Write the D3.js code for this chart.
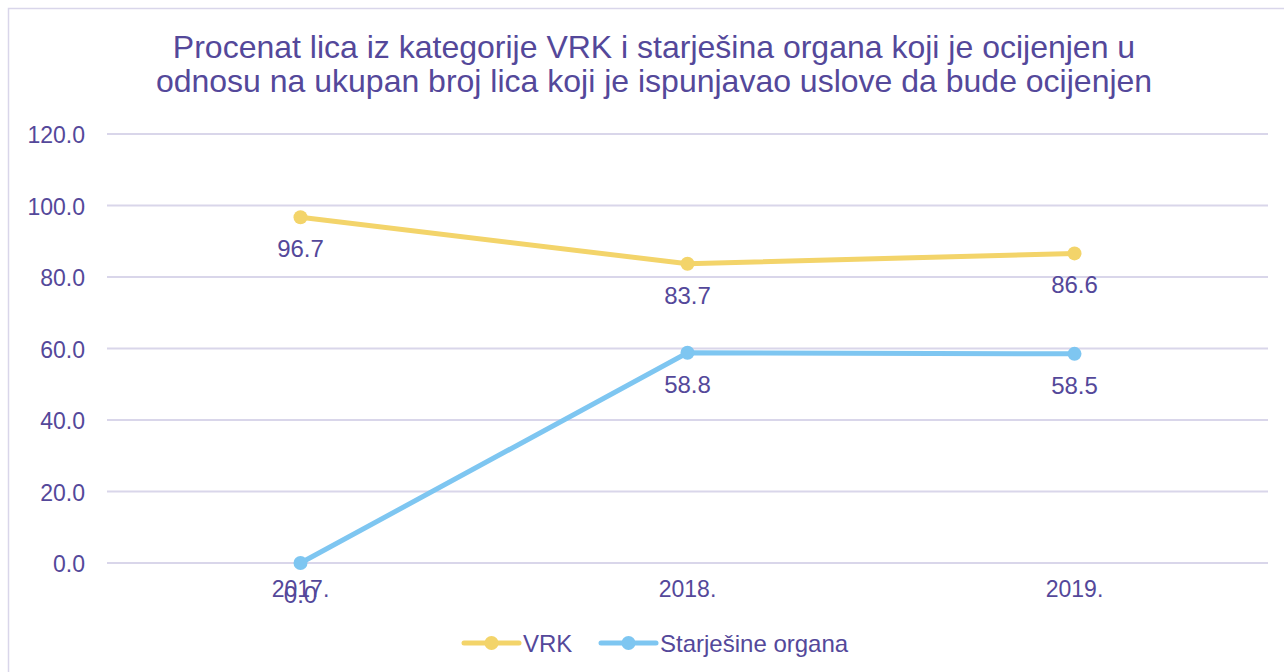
<!DOCTYPE html>
<html>
<head>
<meta charset="utf-8">
<script src="https://cdn.jsdelivr.net/npm/d3@7"></script>
<style>
  body { margin: 0; background: #fff; }
  svg { display: block; font-family: "Liberation Sans", Arial, sans-serif; }
</style>
</head>
<body>
<div id="chart"></div>
<script>
const years = ['2017.', '2018.', '2019.'];
const vrk = [96.7, 83.7, 86.6];
const starjesine = [0.0, 58.8, 58.5];
const yTicks = [0, 20, 40, 60, 80, 100, 120];
const seriesNames = ['VRK', 'Starješine organa'];
const titleLines = ['Procenat lica iz kategorije VRK i starješina organa koji je ocijenjen u',
                    'odnosu na ukupan broj lica koji je ispunjavao uslove da bude ocijenjen'];

const w = 1284;
const h = 672;
const textColor = '#54489a';

const svg = d3.select('#chart').append('svg')
    .attr('width', w)
    .attr('height', h);

// outer frame
svg.append('rect')
    .attr('x', 8.5).attr('y', 8.5)
    .attr('width', w + 10).attr('height', h)
    .attr('fill', 'none')
    .attr('stroke', '#d9d6ea')
    .attr('stroke-width', 1.5);

svg.append('text')
    .attr('x', 654).attr('y', 58)
    .attr('text-anchor', 'middle')
    .attr('fill', textColor)
    .style('font-size', '32px')
    .selectAll('tspan')
    .data(titleLines)
    .join('tspan')
    .attr('x', 654)
    .attr('dy', (d, i) => i === 0 ? 0 : 34)
    .text(d => d);

const x = d3.scaleBand().domain(years).range([107, 1268]);
const y = d3.scaleLinear().domain([0, 120]).range([563, 134]);

// gridlines
svg.append('g')
    .selectAll('line')
    .data(yTicks)
    .join('line')
    .attr('x1', 107).attr('x2', 1268)
    .attr('y1', d => y(d)).attr('y2', d => y(d))
    .attr('stroke', '#d9d6ea')
    .attr('stroke-width', 2);

const yAxis = d3.axisLeft(y).tickValues(yTicks).tickFormat(d3.format('.1f')).tickSize(0).tickPadding(22);
const gy = svg.append('g').attr('transform', 'translate(107,0)').call(yAxis);
gy.select('.domain').remove();
gy.selectAll('text').attr('fill', textColor).attr('dy', '0.38em').style('font-size', '23px');

const xAxis = d3.axisBottom(x).tickSize(0).tickPadding(18);
const gx = svg.append('g').attr('transform', 'translate(0,563)').call(xAxis);
gx.select('.domain').remove();
gx.selectAll('text').attr('fill', textColor).style('font-size', '23px');

const series = [
    { name: seriesNames[0], values: vrk, color: '#f3d46a' },
    { name: seriesNames[1], values: starjesine, color: '#7ec6f1' }
];

const line = d3.line()
    .x((d, i) => x(years[i]) + x.bandwidth() / 2)
    .y(d => y(d));

series.forEach(s => {
    const g = svg.append('g');
    g.append('path')
        .attr('d', line(s.values))
        .attr('fill', 'none')
        .attr('stroke', s.color)
        .attr('stroke-width', 5)
        .attr('stroke-linecap', 'round');
    g.selectAll('circle')
        .data(s.values)
        .join('circle')
        .attr('cx', (d, i) => x(years[i]) + x.bandwidth() / 2)
        .attr('cy', d => y(d))
        .attr('r', 7)
        .attr('fill', s.color);
    g.selectAll('text')
        .data(s.values)
        .join('text')
        .attr('x', (d, i) => x(years[i]) + x.bandwidth() / 2)
        .attr('y', d => y(d) + 40)
        .attr('text-anchor', 'middle')
        .attr('fill', textColor)
        .style('font-size', '24px')
        .text(d => d3.format('.1f')(d));
});

// legend
const legendX = [464, 601];
series.forEach((s, i) => {
    const g = svg.append('g').attr('transform', `translate(${legendX[i]},643)`);
    g.append('line')
        .attr('x1', 0).attr('x2', 55)
        .attr('stroke', s.color)
        .attr('stroke-width', 5)
        .attr('stroke-linecap', 'round');
    g.append('circle').attr('cx', 27.5).attr('r', 7).attr('fill', s.color);
    g.append('text')
        .attr('x', 59).attr('y', 9)
        .attr('fill', textColor)
        .style('font-size', '24px')
        .text(s.name);
});
</script>
</body>
</html>
